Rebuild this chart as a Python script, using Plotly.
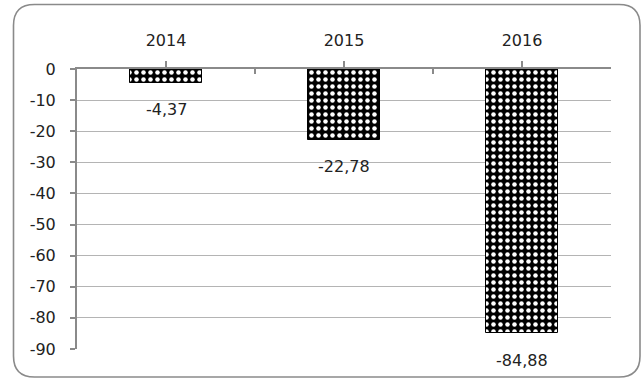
import plotly.graph_objects as go

# ---- data ----
years = ["2014", "2015", "2016"]
values = [-4.37, -22.78, -84.88]
y_ticks = [0, -10, -20, -30, -40, -50, -60, -70, -80, -90]
y_ticktext = ["0", "-10", "-20", "-30", "-40", "-50", "-60", "-70", "-80", "-90"]

# ---- layout geometry (pixels) ----
W, H = 642, 379
ML, MR, MT, MB = 77, 31, 69, 30
PW, PH = W - ML - MR, H - MT - MB
FONT = "DejaVu Sans"
GREY = "#8a8a8a"


def px_x(p):
    return (p - ML) / PW


def px_y(p):
    return (H - MB - p) / PH


def rounded_rect(x0, y0, x1, y1, r):
    pts = []
    pts.append(f"M {px_x(x0 + r)},{px_y(y0)}")
    pts.append(f"L {px_x(x1 - r)},{px_y(y0)}")
    pts.append(f"Q {px_x(x1)},{px_y(y0)} {px_x(x1)},{px_y(y0 + r)}")
    pts.append(f"L {px_x(x1)},{px_y(y1 - r)}")
    pts.append(f"Q {px_x(x1)},{px_y(y1)} {px_x(x1 - r)},{px_y(y1)}")
    pts.append(f"L {px_x(x0 + r)},{px_y(y1)}")
    pts.append(f"Q {px_x(x0)},{px_y(y1)} {px_x(x0)},{px_y(y1 - r)}")
    pts.append(f"L {px_x(x0)},{px_y(y0 + r)}")
    pts.append(f"Q {px_x(x0)},{px_y(y0)} {px_x(x0 + r)},{px_y(y0)} Z")
    return " ".join(pts)


xpos = list(range(len(years)))

fig = go.Figure()
fig.add_trace(go.Bar(
    x=xpos, y=values, width=0.41,
    marker=dict(
        color="black",
        line=dict(color="black", width=1),
        pattern=dict(shape=".", fgcolor="white", bgcolor="black",
                     size=7, solidity=0.33, fillmode="replace"),
    ),
    showlegend=False, hoverinfo="skip",
))
# invisible trace to make the secondary (boundary-tick) axis exist
fig.add_trace(go.Scatter(x=[xpos[0]], y=[values[0]], xaxis="x2",
                         mode="markers", marker=dict(opacity=0),
                         showlegend=False, hoverinfo="skip"))

for x, v in zip(xpos, values):
    fig.add_annotation(x=x, y=v, text=f"{v:.2f}".replace(".", ","),
                       showarrow=False, yanchor="middle", yshift=-27,
                       font=dict(family=FONT, size=16, color="#222"))

fig.add_shape(type="path", xref="paper", yref="paper",
              path=rounded_rect(13.5, 4.5, 640, 377, 21),
              line=dict(color=GREY, width=1.6), layer="below")

fig.update_layout(
    width=W, height=H,
    margin=dict(l=ML, r=MR, t=MT, b=MB, pad=0),
    paper_bgcolor="white", plot_bgcolor="white",
    font=dict(family=FONT, size=16, color="#222"),
    bargap=0,
    xaxis=dict(
        range=[-0.5, len(years) - 0.5], side="top",
        tickvals=xpos, ticktext=years,
        ticks="outside", ticklen=6, tickwidth=1.5, tickcolor=GREY,
        showline=True, linecolor=GREY, linewidth=2,
        showgrid=False, zeroline=False, ticklabelstandoff=9,
        fixedrange=True,
    ),
    xaxis2=dict(
        range=[-0.5, len(years) - 0.5], overlaying="x", side="top",
        anchor="y",
        tickvals=[i + 0.5 for i in xpos], showticklabels=False,
        ticks="inside", ticklen=5, tickwidth=1.5, tickcolor=GREY,
        showline=False, showgrid=False, zeroline=False,
    ),
    yaxis=dict(
        range=[-90, 0], tickvals=y_ticks, ticktext=y_ticktext,
        ticks="outside", ticklen=5, tickwidth=1.5, tickcolor=GREY,
        showline=True, linecolor=GREY, linewidth=2,
        showgrid=True, gridcolor="#b4b4b4", gridwidth=1,
        zeroline=False, ticklabelstandoff=11,
    ),
)

fig.write_html("out.html")
